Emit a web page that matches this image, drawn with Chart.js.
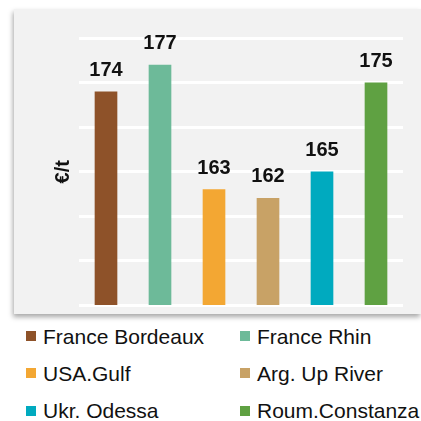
<!DOCTYPE html>
<html>
<head>
<meta charset="utf-8">
<script src="https://cdn.jsdelivr.net/npm/chart.js@4"></script>
<style>
  html, body { margin: 0; padding: 0; background: #ffffff; }
  body { width: 421px; height: 421px; position: relative; overflow: hidden; font-family: "Liberation Sans", Arial, sans-serif; }
  #panel { position: absolute; left: 14px; top: 9px; width: 407px; height: 305px; background: #f2f2f2; box-shadow: -1px 3px 5px rgba(0,0,0,0.35); }
  #wrap { position: absolute; left: 0; top: 0; width: 407px; height: 305px; }
  .item { position: absolute; display: flex; align-items: center; height: 21px; line-height: 21px; font-size: 21px; color: #111; white-space: nowrap; }
  .sw { width: 10px; height: 10px; margin-right: 7px; flex: none; }
</style>
</head>
<body>
<div id="panel"><div id="wrap"><canvas id="c" width="407" height="305"></canvas></div></div>
<div id="legend"></div>
<script>
const categories = ["France Bordeaux", "France Rhin", "USA.Gulf", "Arg. Up River", "Ukr. Odessa", "Roum.Constanza"];
const prices = [174, 177, 163, 162, 165, 175];
const colors = ["#8e5229", "#6dba99", "#f3a733", "#c8a266", "#00aabf", "#5fa142"];
const yTitle = "€/t";
const yMin = 150, yMax = 180, yStep = 5;

const labelPlugin = {
  id: 'barLabels',
  afterDatasetsDraw(chart) {
    const ctx = chart.ctx;
    const meta = chart.getDatasetMeta(0);
    ctx.save();
    ctx.font = 'bold 20px "Liberation Sans", Arial, sans-serif';
    ctx.fillStyle = '#111';
    ctx.textAlign = 'center';
    ctx.textBaseline = 'alphabetic';
    meta.data.forEach((bar, i) => {
      ctx.fillText(String(prices[i]), bar.x, bar.y - 16);
    });
    ctx.restore();
  }
};

new Chart(document.getElementById('c'), {
  type: 'bar',
  data: {
    labels: categories,
    datasets: [{ data: prices, backgroundColor: colors, borderWidth: 0, barThickness: 22 }]
  },
  options: {
    responsive: false,
    animation: false,
    layout: { padding: { left: 33, right: 18, top: 29.5, bottom: 9 } },
    plugins: { legend: { display: false }, tooltip: { enabled: false } },
    scales: {
      x: { display: false },
      y: {
        min: yMin, max: yMax,
        ticks: { display: false, stepSize: yStep },
        border: { display: false },
        grid: { color: '#ffffff', lineWidth: 3, drawTicks: false },
        title: { display: true, text: yTitle, color: '#111', font: { family: '"Liberation Sans", Arial, sans-serif', size: 20, weight: 'bold' }, padding: { top: 4, bottom: 4 } }
      }
    }
  },
  plugins: [labelPlugin]
});

const legend = document.getElementById('legend');
const colX = [26, 240];
const rowTop = [325.5, 362.8, 400.1];
categories.forEach((name, i) => {
  const d = document.createElement('div');
  d.className = 'item';
  d.style.left = colX[i % 2] + 'px';
  d.style.top = rowTop[Math.floor(i / 2)] + 'px';
  const s = document.createElement('span');
  s.className = 'sw';
  s.style.background = colors[i];
  d.appendChild(s);
  d.appendChild(document.createTextNode(name));
  legend.appendChild(d);
});
</script>
</body>
</html>
